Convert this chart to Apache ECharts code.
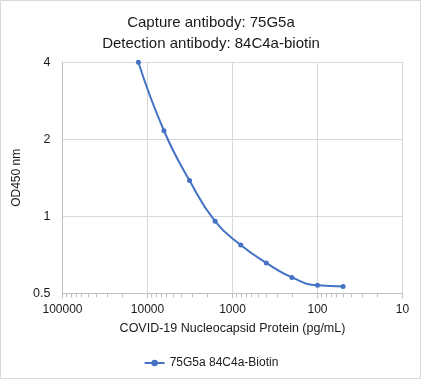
<!DOCTYPE html>
<html>
<head>
<meta charset="utf-8">
<script src="https://cdn.jsdelivr.net/npm/echarts@6/dist/echarts.min.js"></script>
<style>html,body{margin:0;padding:0;background:#fff}#c{width:422px;height:380px}</style>
</head>
<body>
<div id="c"></div>
<script>
var titleLines = ['Capture antibody: 75G5a', 'Detection antibody: 84C4a-biotin'];
var seriesName = '75G5a 84C4a-Biotin';
var concentrations = [12800, 6400, 3200, 1600, 800, 400, 200, 100, 50];
var odValues = [4.0, 2.16, 1.38, 0.956, 0.772, 0.657, 0.577, 0.537, 0.532];
var xTickLabels = [10, 100, 1000, 10000, 100000];
var yTickLabels = [0.5, 1, 2, 4];
var minorDecades = [10, 100, 1000, 10000];
var minorMultipliers = [2, 3, 4, 5, 6, 7, 8, 9];

var minorTicks = [];
minorDecades.forEach(function (d) { minorMultipliers.forEach(function (m) { minorTicks.push([d * m, yTickLabels[0]]); }); });

var font = 'Liberation Sans';
var chart = echarts.init(document.getElementById('c'), null, {renderer: 'canvas'});
chart.setOption({
  animation: false,
  backgroundColor: '#fff',
  title: {
    text: titleLines.join('\n'),
    left: 'center',
    top: 7,
    textStyle: {fontFamily: font, fontSize: 15, fontWeight: 'normal', color: '#1a1a1a', lineHeight: 21}
  },
  legend: {
    data: [seriesName],
    bottom: 6,
    left: 'center',
    itemWidth: 20,
    itemHeight: 8,
    textStyle: {fontFamily: font, fontSize: 12, color: '#1a1a1a'}
  },
  graphic: [{
    type: 'rect', silent: true, z: -1,
    shape: {x: 0.5, y: 0.5, width: 420, height: 378},
    style: {fill: 'none', stroke: '#d9d9d9', lineWidth: 1}
  }],
  grid: {left: 62.5, right: 19.5, top: 62.3, bottom: 86.7, containLabel: false},
  xAxis: {
    type: 'log', logBase: 10, inverse: true,
    min: xTickLabels[0], max: xTickLabels[xTickLabels.length - 1],
    name: 'COVID-19 Nucleocapsid Protein (pg/mL)',
    nameLocation: 'middle', nameGap: 29,
    nameTextStyle: {fontFamily: font, fontSize: 12.5, color: '#1a1a1a'},
    axisLine: {show: true, lineStyle: {color: '#bfbfbf', width: 1}},
    axisTick: {show: true, length: 5, lineStyle: {color: '#bfbfbf'}},
    axisLabel: {fontFamily: font, fontSize: 12, color: '#1a1a1a', margin: 10,
      formatter: function (v) { return String(Math.round(v)); }},
    splitLine: {show: true, lineStyle: {color: '#d9d9d9', width: 1}}
  },
  yAxis: {
    type: 'log', logBase: 2,
    min: yTickLabels[0], max: yTickLabels[yTickLabels.length - 1],
    name: 'OD450 nm',
    nameLocation: 'middle', nameGap: 30,
    nameTextStyle: {fontFamily: font, fontSize: 12, color: '#1a1a1a'},
    axisLine: {show: true, lineStyle: {color: '#bfbfbf', width: 1}},
    axisTick: {show: false},
    axisLabel: {fontFamily: font, fontSize: 12.5, color: '#1a1a1a', margin: 12},
    splitLine: {show: true, lineStyle: {color: '#d9d9d9', width: 1}}
  },
  series: [{
    name: seriesName,
    type: 'line',
    data: concentrations.map(function (c, i) { return [c, odValues[i]]; }),
    smooth: true,
    symbol: 'circle',
    symbolSize: 5,
    lineStyle: {color: '#4472C4', width: 2},
    itemStyle: {color: '#4472C4'},
    z: 5
  }, {
    name: 'minorTicks',
    type: 'custom',
    silent: true,
    clip: false,
    data: minorTicks,
    renderItem: function (params, api) {
      var p = api.coord([api.value(0), api.value(1)]);
      return {type: 'line', shape: {x1: Math.round(p[0]) + 0.5, y1: p[1], x2: Math.round(p[0]) + 0.5, y2: p[1] + 4},
        style: {stroke: '#bfbfbf', lineWidth: 1}};
    }
  }]
});
</script>
</body>
</html>
